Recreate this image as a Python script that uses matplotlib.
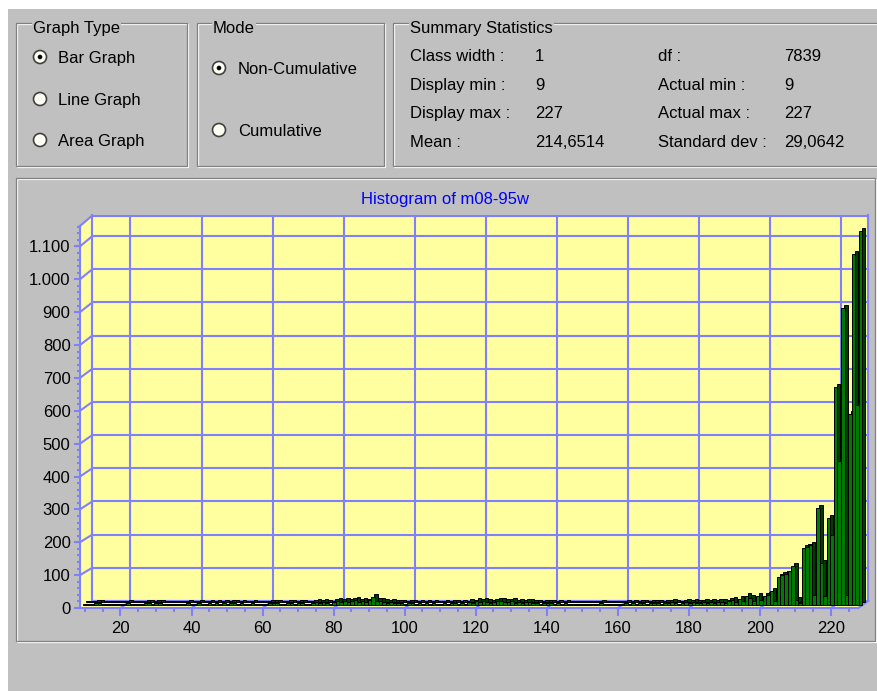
import numpy as np
import matplotlib
matplotlib.use('Agg')
import matplotlib.pyplot as plt
from matplotlib.patches import Rectangle, Circle, Polygon
from matplotlib.ticker import MultipleLocator, FuncFormatter
from matplotlib.transforms import offset_copy

plt.rcParams['font.family'] = ['Liberation Sans', 'DejaVu Sans']

# histogram, class width 1, classes 9..227 (counts)
classes = np.arange(9, 228)
counts = [
    2, 3, 1, 6, 4, 2, 3, 1, 2, 3,          # 9-18
    2, 1, 5, 3, 2, 1, 3, 4, 5, 2,          # 19-28
    6, 5, 2, 3, 1, 2, 3, 1, 2, 4,          # 29-38
    2, 3, 5, 2, 3, 6, 2, 4, 3, 5,          # 39-48
    2, 4, 5, 3, 6, 2, 3, 4, 1, 3,          # 49-58
    2, 3, 4, 6, 5, 3, 2, 5, 6, 2,          # 59-68
    4, 5, 3, 2, 6, 7, 4, 8, 6, 3,          # 69-78
    9, 11, 8, 12, 7, 10, 13, 9, 11, 8,     # 79-88
    14, 24, 10, 12, 8, 6, 9, 5, 4, 6,      # 89-98
    3, 5, 4, 2, 6, 3, 5, 2, 4, 3,          # 99-108
    2, 5, 3, 6, 4, 2, 5, 3, 8, 6,          # 109-118
    10, 7, 11, 9, 6, 8, 12, 10, 7, 9,      # 119-128
    11, 6, 8, 5, 9, 7, 4, 6, 3, 5,         # 129-138
    4, 6, 3, 5, 2, 4, 3, 2, 1, 2,          # 139-148
    2, 1, 3, 1, 2, 5, 3, 2, 1, 2,          # 149-158
    3, 2, 4, 3, 5, 2, 4, 6, 3, 5,          # 159-168
    4, 6, 3, 5, 4, 7, 5, 3, 6, 8,          # 169-178
    5, 7, 4, 6, 8, 5, 9, 6, 7, 8,          # 179-188
    5, 12, 15, 8, 18, 10, 27, 20, 12, 25,  # 189-198
    15, 25, 30, 42, 10, 82, 88, 93, 100, 117,      # 199-208
    15, 5, 172, 175, 181, 30, 292, 127, 27, 262,   # 209-218
    210, 660, 434, 898, 30, 578, 1063, 605, 1133,  # 219-227
]

title = 'Histogram of m08-95w'
graph_types = ['Bar Graph', 'Line Graph', 'Area Graph']
modes = ['Non-Cumulative', 'Cumulative']
stat_names_1 = ['Class width :', 'Display min :', 'Display max :', 'Mean :']
stat_vals_1 = ['1', '9', '227', '214,6514']
stat_names_2 = ['df :', 'Actual min :', 'Actual max :', 'Standard dev :']
stat_vals_2 = ['7839', '9', '227', '29,0642']
x_ticks = np.arange(20, 221, 20)
y_ticks = np.arange(0, 1101, 100)

GRAY = '#C0C0C0'
DARK = '#808080'
YELLOW = '#FFFFA0'
GRID = '#8080FF'

W, H = 878, 691
fig = plt.figure(figsize=(W / 100, H / 100), dpi=100, facecolor=GRAY)

# dialog layer, in pixels (origin top left)
ui = fig.add_axes([0, 0, 1, 1])
ui.set_xlim(0, W)
ui.set_ylim(H, 0)
ui.axis('off')


def px_axes(x0, y0, x1, y1):
    return fig.add_axes([x0 / W, 1 - y1 / H, (x1 - x0) / W, (y1 - y0) / H])


def etched(x0, y0, x1, y1):
    ui.add_patch(Rectangle((x0 + 1, y0 + 1), x1 - x0, y1 - y0, fill=False, ec='white', lw=0.9))
    ui.add_patch(Rectangle((x0, y0), x1 - x0, y1 - y0, fill=False, ec=DARK, lw=0.9))


def label(x, y, s, **kw):
    ui.text(x, y + 6, s, fontsize=12, va='baseline', ha='left', color='black', **kw)


def radio(x, y, on):
    ui.add_patch(Circle((x, y), 6.5, fc='#FFFFF4', ec='#404040', lw=1.2))
    if on:
        ui.add_patch(Circle((x, y), 2.3, fc='black', ec='none'))


ui.add_patch(Rectangle((0, 0), W, 9, fc='white', ec='none'))
ui.add_patch(Rectangle((0, 0), 8, H, fc='white', ec='none'))

# group boxes
etched(16, 23, 187, 166)
etched(197, 23, 384, 166)
etched(393, 23, 890, 166)
etched(16.5, 177.5, 875, 641)
tb = dict(facecolor=GRAY, edgecolor='none', pad=1)
ui.text(33, 33, 'Graph Type', fontsize=12, va='baseline', bbox=tb)
ui.text(213, 33, 'Mode', fontsize=12, va='baseline', bbox=tb)
ui.text(410, 33, 'Summary Statistics', fontsize=12, va='baseline', bbox=tb)

for i, s in enumerate(graph_types):
    y = [57, 99, 140][i]
    radio(40, y, i == 0)
    label(58, y, s)
for i, s in enumerate(modes):
    y = [68, 130][i]
    radio(219, y, i == 0)
    label(238, y, s)

for i in range(4):
    y = [55, 83.5, 112, 140.5][i]
    label(410, y, stat_names_1[i])
    label(535, y, stat_vals_1[i])
    label(658, y, stat_names_2[i])
    label(784, y, stat_vals_2[i])

ui.text(445, 204, title, fontsize=12, color='#0000FF', ha='center', va='baseline')

# chart: back plane, bars, front axis (fake 3d)
BACK = (92.3, 215.5, 868.3, 600.9)
MID = (86, 221, 863, 604.5)
FRONT = (80, 226, 858.3, 608)
YMAX = 1162

back = px_axes(*BACK)
back.set_facecolor(YELLOW)
back.set_xlim(9.25, 227.7)
back.set_ylim(0, YMAX)
back.set_xticks(x_ticks)
back.set_yticks(y_ticks)
back.grid(True, color=GRID, lw=1.5)
back.tick_params(length=0, labelbottom=False, labelleft=False)
for sp in back.spines.values():
    sp.set_color(GRID)
    sp.set_linewidth(1.5)

front = px_axes(*FRONT)
front.patch.set_visible(False)
front.set_xlim(8.6, 227.7)
front.set_ylim(0, YMAX)


def to_px(ax, x, y):
    d = ax.transData.transform((x, y))
    return d[0], H - d[1]


# left wall and floor
fl = [(FRONT[0], FRONT[3]), (FRONT[2], FRONT[3]), (BACK[2], BACK[3]), (BACK[0], BACK[3])]
wl = [(FRONT[0], FRONT[3]), (FRONT[0], FRONT[1]), (BACK[0], BACK[1]), (BACK[0], BACK[3])]
ui.add_patch(Polygon(fl, closed=True, fc=YELLOW, ec='none'))
ui.add_patch(Polygon(wl, closed=True, fc=YELLOW, ec='none'))
ui.plot([FRONT[0], BACK[0]], [FRONT[1], BACK[1]], color=GRID, lw=1.5)
ui.plot([FRONT[2], BACK[2]], [FRONT[3], BACK[3]], color=GRID, lw=1.5)
for v in y_ticks[1:]:
    xf, yf = to_px(front, front.get_xlim()[0], v)
    xb, yb = to_px(back, back.get_xlim()[0], v)
    ui.plot([xf, xb], [yf, yb], color=GRID, lw=1.5)
for v in x_ticks:
    xf, yf = to_px(front, v, 0)
    xb, yb = to_px(back, v, 0)
    ui.plot([xf, xb], [yf, yb], color=GRID, lw=1.5)

mid = px_axes(*MID)
mid.set_xlim(9.25, 227.7)
mid.set_ylim(0, YMAX)
mid.axis('off')
shade = offset_copy(mid.transData, fig=fig, x=3, y=3, units='dots')
mid.bar(classes, counts, width=1.0, color='#003C00', edgecolor='black', lw=0.7,
        transform=shade, clip_on=False)
mid.bar(classes, counts, width=1.0, color='#007A00', edgecolor='black', lw=0.7,
        clip_on=False)

for s in ['top', 'right']:
    front.spines[s].set_visible(False)
for s in ['left', 'bottom']:
    front.spines[s].set_color(GRID)
    front.spines[s].set_linewidth(1.5)
front.set_xticks(x_ticks)
front.set_yticks(y_ticks)
front.xaxis.set_minor_locator(MultipleLocator(5))
front.yaxis.set_minor_locator(MultipleLocator(20))
front.yaxis.set_major_formatter(FuncFormatter(lambda v, p: f'{int(v):,}'.replace(',', '.')))
front.tick_params(axis='x', which='major', length=6, width=1.5, color=GRID, pad=3.5, labelsize=12)
front.tick_params(axis='x', which='minor', length=3, width=1.5, color=GRID)
front.tick_params(axis='y', which='major', length=4.3, width=1.5, color=GRID, pad=2.5, labelsize=12)
front.tick_params(axis='y', which='minor', length=2.2, width=1.5, color=GRID)

fig.savefig('out.png', dpi=100, facecolor=GRAY)
